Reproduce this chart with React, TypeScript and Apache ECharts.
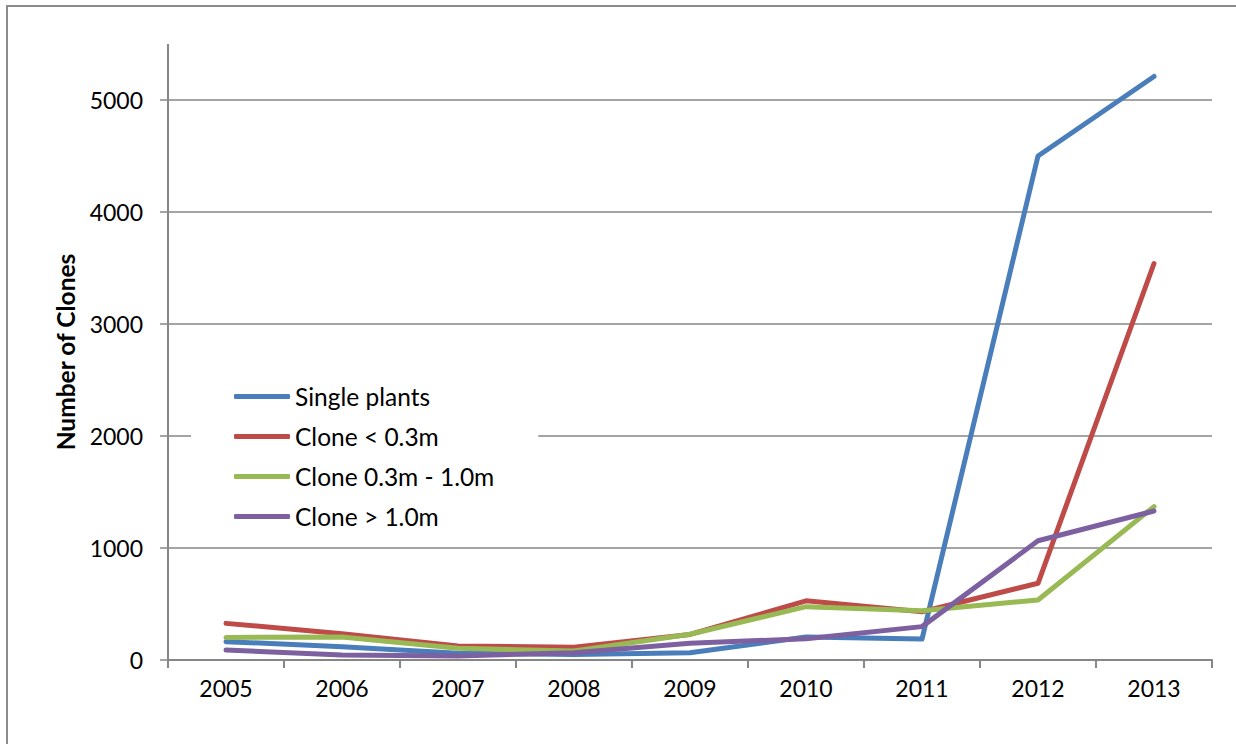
import React, { useEffect, useRef } from "react";
import * as echarts from "echarts";

const years = ["2005", "2006", "2007", "2008", "2009", "2010", "2011", "2012", "2013"];
const singlePlants = [164, 119, 60, 50, 65, 205, 187, 4500, 5210];
const cloneLt03 = [327, 235, 125, 113, 228, 528, 431, 685, 3540];
const clone03to10 = [202, 205, 104, 80, 230, 476, 440, 536, 1369];
const cloneGt10 = [89, 45, 36, 65, 150, 190, 298, 1065, 1330];

const seriesNames = ["Single plants", "Clone < 0.3m", "Clone 0.3m - 1.0m", "Clone > 1.0m"];
const seriesColors = ["#4a7ebb", "#be4b48", "#98b954", "#7d60a0"];
const seriesData = [singlePlants, cloneLt03, clone03to10, cloneGt10];

const yTicks = { min: 0, max: 5000, interval: 1000 };
const yAxisTitle = "Number of Clones";

const FONT = "Lato";
const GRID = { left: 168, right: 24, top: 100, bottom: 84 };
const AXIS_GRAY = "#868686";

export default function App() {
  const ref = useRef<HTMLDivElement>(null);
  useEffect(() => {
    if (!ref.current) return;
    const chart = echarts.init(ref.current, null, { renderer: "svg" });
    const plotH = 744 - GRID.top - GRID.bottom;
    const pxPerUnit = plotH / (yTicks.max - yTicks.min);
    const extTop = GRID.top - 500 * pxPerUnit;
    chart.setOption({
      animation: false,
      backgroundColor: "#ffffff",
      textStyle: { fontFamily: FONT, color: "#000" },
      grid: { ...GRID, containLabel: false },
      graphic: [
        {
          type: "rect",
          silent: true,
          z: 100,
          shape: { x: 7, y: 6, width: 1400, height: 900 },
          style: { fill: "transparent", stroke: "#8c8c8c", lineWidth: 2 },
        },
        {
          type: "line",
          silent: true,
          shape: { x1: GRID.left, y1: extTop, x2: GRID.left, y2: GRID.top },
          style: { stroke: AXIS_GRAY, lineWidth: 2 },
        },
        {
          type: "text",
          silent: true,
          x: 65,
          y: (extTop + 744 - GRID.bottom) / 2,
          rotation: Math.PI / 2,
          style: {
            text: yAxisTitle,
            fontFamily: FONT,
            fontSize: 24.5,
            fontWeight: "bold",
            fill: "#000",
            textAlign: "center",
            textVerticalAlign: "middle",
          },
        },
      ],
      legend: {
        orient: "vertical",
        left: 191,
        top: 366,
        padding: [18, 44, 6, 43],
        backgroundColor: "#ffffff",
        icon: "roundRect",
        itemWidth: 56,
        itemHeight: 5,
        itemGap: 15,
        data: seriesNames,
        textStyle: { fontFamily: FONT, fontSize: 24.5, color: "#000" },
      },
      xAxis: {
        type: "category",
        data: years,
        boundaryGap: true,
        axisLine: { lineStyle: { color: AXIS_GRAY, width: 2 } },
        axisTick: { show: true, length: 8, lineStyle: { color: AXIS_GRAY, width: 2 } },
        axisLabel: { fontFamily: FONT, fontSize: 23, color: "#000", margin: 16 },
        splitLine: { show: false },
      },
      yAxis: {
        type: "value",
        min: yTicks.min,
        max: yTicks.max,
        interval: yTicks.interval,
        axisLine: { show: true, lineStyle: { color: AXIS_GRAY, width: 2 } },
        axisTick: { show: true, length: 8, lineStyle: { color: AXIS_GRAY, width: 1.5 } },
        axisLabel: {
          fontFamily: FONT,
          fontSize: 23,
          color: "#000",
          margin: 25,
          formatter: (v: number) => String(v),
        },
        splitLine: { show: true, lineStyle: { color: AXIS_GRAY, width: 1.5 } },
      },
      series: seriesNames.map((name, i) => ({
        name,
        type: "line",
        data: seriesData[i],
        symbol: "none",
        smooth: false,
        clip: false,
        color: seriesColors[i],
        lineStyle: { width: 5, color: seriesColors[i], cap: "round", join: "round" },
      })),
    });
    return () => chart.dispose();
  }, []);
  return (
    <div
      ref={ref}
      style={{ position: "fixed", left: 0, top: 0, width: 1236, height: 744 }}
    />
  );
}
